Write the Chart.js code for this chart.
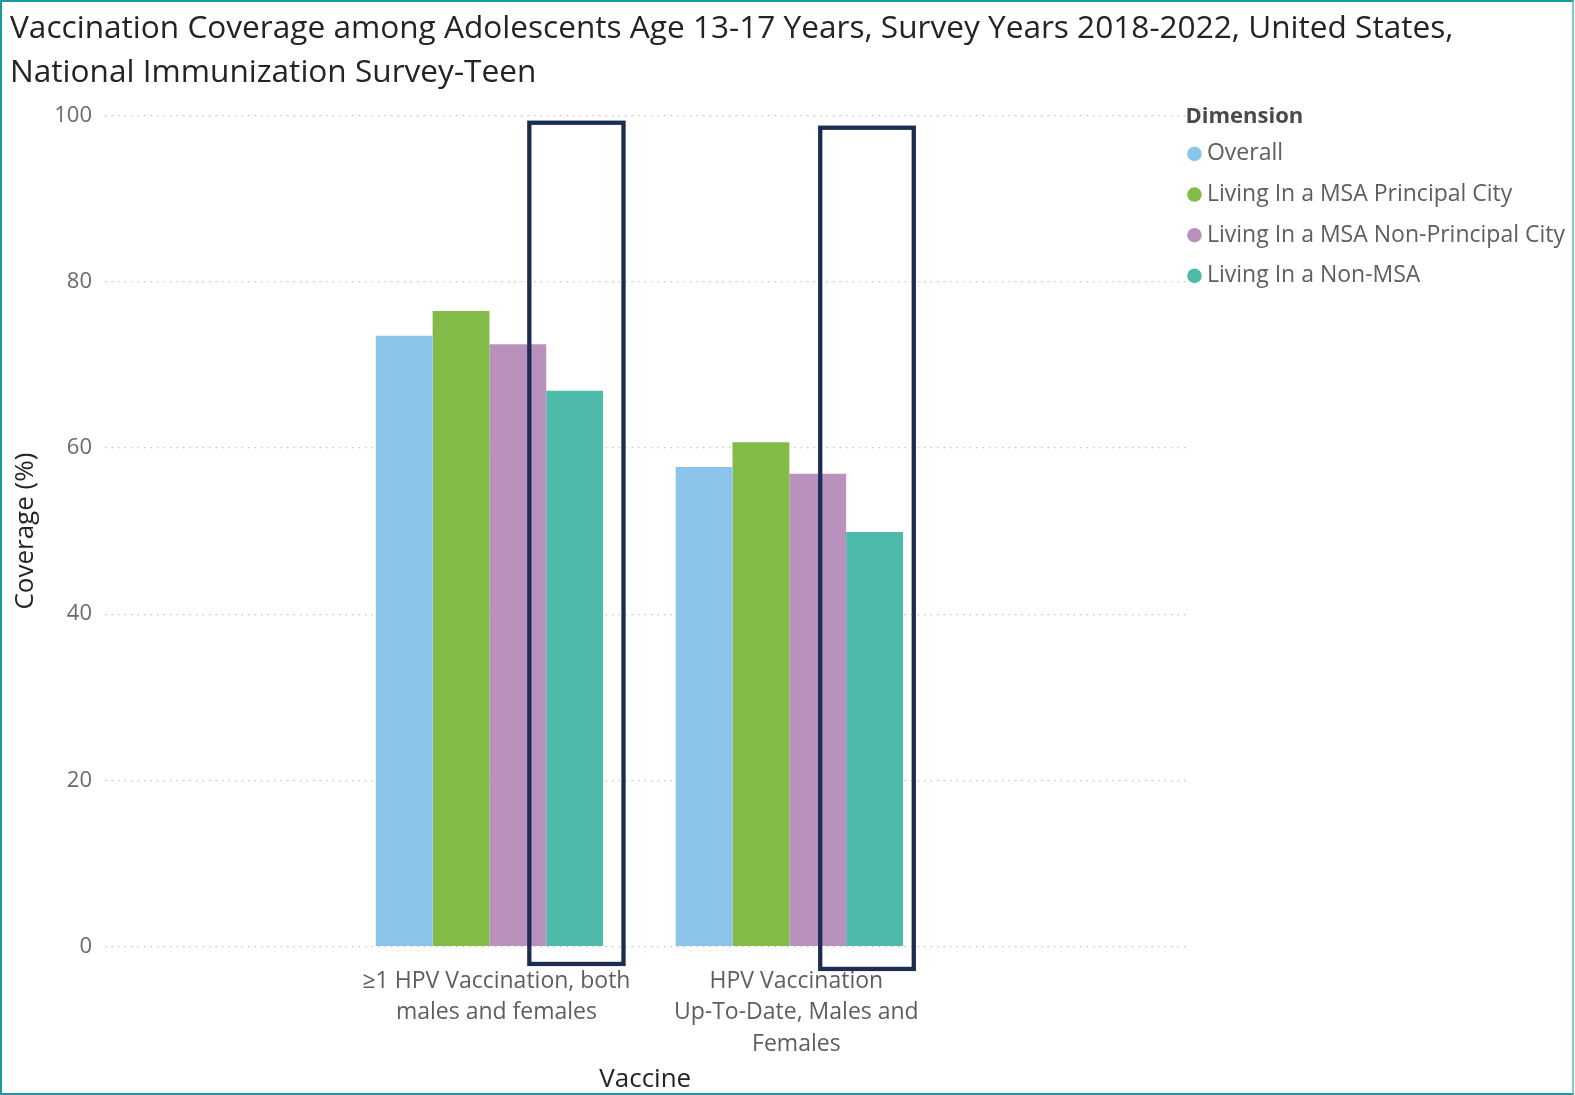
<!DOCTYPE html>
<html>
<head>
<meta charset="utf-8">
<title>HPV Vaccination Coverage by MSA</title>
<script src="https://cdn.jsdelivr.net/npm/chart.js@4.4.1/dist/chart.umd.min.js"></script>
<style>
  html, body { margin: 0; padding: 0; background: #fff; }
  #wrap { position: relative; width: 1575px; height: 1095px; }
  #wrap canvas { display: block; }
  #frame {
    position: absolute; left: 0; top: 0; width: 1574px; height: 1095px;
    box-sizing: border-box; pointer-events: none;
    border: 2px solid #1c9aa1; border-right: 2px solid #7ccacc;
  }
</style>
</head>
<body>
<div id="wrap">
  <canvas id="coverageChart" width="1575" height="1095"></canvas>
  <div id="frame"></div>
</div>
<script>
const vaccines = [
    ['≥1 HPV Vaccination, both', 'males and females'],
    ['HPV Vaccination', 'Up-To-Date, Males and', 'Females']
];
const dimensions = [
    'Overall',
    'Living In a MSA Principal City',
    'Living In a MSA Non-Principal City',
    'Living In a Non-MSA'
];
const overall         = [73.5, 57.7];
const msaPrincipal    = [76.5, 60.7];
const msaNonPrincipal = [72.5, 56.9];
const nonMsa          = [66.9, 49.9];

// outlined callouts around the Non-MSA bars, in axis units
const callouts = [
    { x0: 1.133, x1: 1.447, y0: -2.1, y1: 99.15 },
    { x0: 2.103, x1: 2.415, y0: -2.7, y1: 98.55 }
];

const FONT = '"Open Sans", "Noto Sans", sans-serif';
const seriesValues = [overall, msaPrincipal, msaNonPrincipal, nonMsa];
const seriesColors = ['#8ac4e8', '#83bb48', '#b991bd', '#4dbaaa'];

// keep the plot's right edge fixed no matter how wide the legend text renders
const PLOT_RIGHT = 1186;
const measureCtx = document.createElement('canvas').getContext('2d');
measureCtx.font = `23px ${FONT}`;
const legendTextWidth = Math.max(...dimensions.map(d => measureCtx.measureText(d).width));
const legendWidth = 8 + 2 + 11.5 + legendTextWidth + 10;
const padRight = Math.max(0, 1575 - PLOT_RIGHT - legendWidth);

const calloutPlugin = {
    id: 'callouts',
    afterDraw(chart) {
        const { ctx, scales: { x, y } } = chart;
        ctx.save();
        ctx.strokeStyle = '#1b2d52';
        ctx.lineWidth = 4.3;
        callouts.forEach(c => {
            const left   = x.getPixelForValue(c.x0);
            const right  = x.getPixelForValue(c.x1);
            const top    = y.getPixelForValue(c.y1);
            const bottom = y.getPixelForValue(c.y0);
            ctx.strokeRect(left, top, right - left, bottom - top);
        });
        ctx.restore();
    }
};

new Chart(document.getElementById('coverageChart'), {
    type: 'bar',
    data: {
        datasets: dimensions.map((name, s) => ({
            label: name,
            data: seriesValues[s].map((v, i) => ({ x: i + 1, y: v })),
            backgroundColor: seriesColors[s],
            borderWidth: 0,
            categoryPercentage: 0.758,
            barPercentage: 1
        }))
    },
    plugins: [calloutPlugin],
    options: {
        responsive: false,
        animation: false,
        layout: { padding: { left: 10, right: padRight, top: 0, bottom: 0 } },
        plugins: {
            title: {
                display: true,
                align: 'start',
                text: [
                    'Vaccination Coverage among Adolescents Age 13-17 Years, Survey Years 2018-2022, United States,',
                    'National Immunization Survey-Teen'
                ],
                color: '#252423',
                font: { family: FONT, size: 31.6, weight: 'normal', lineHeight: 1.392 },
                padding: { top: 7, bottom: 20.7 }
            },
            legend: {
                position: 'right',
                align: 'start',
                title: {
                    display: true,
                    text: 'Dimension',
                    position: 'start',
                    color: '#4a4a4a',
                    font: { family: FONT, size: 22, weight: 'bold', lineHeight: 1.2 },
                    padding: { top: 106, bottom: 2 }
                },
                labels: {
                    usePointStyle: true,
                    pointStyle: 'circle',
                    boxWidth: 2,
                    boxHeight: 10.3,
                    padding: 8,
                    color: '#605e5c',
                    font: { family: FONT, size: 23, lineHeight: 1.42 },
                    // single-line arrays so the row height follows the font lineHeight
                    generateLabels: chart => Chart.defaults.plugins.legend.labels.generateLabels(chart)
                        .map(item => ({ ...item, text: [item.text] }))
                }
            },
            tooltip: { enabled: false }
        },
        scales: {
            x: {
                type: 'linear',
                min: -0.282,
                max: 3.321,
                offset: false,
                grid: { display: false },
                border: { display: false },
                afterBuildTicks: axis => {
                    axis.ticks = vaccines.map((v, i) => ({ value: i + 1 }));
                },
                afterFit: axis => { axis.height = 148.5; },
                ticks: {
                    autoSkip: false,
                    maxRotation: 0,
                    padding: 11,
                    labelOffset: 7,
                    color: '#605e5c',
                    font: { family: FONT, size: 23, lineHeight: 1.37 },
                    callback: value => vaccines[value - 1]
                },
                title: {
                    display: true,
                    text: 'Vaccine',
                    color: '#252423',
                    font: { family: FONT, size: 26, lineHeight: 1.2 },
                    padding: { top: 0, bottom: 0 }
                }
            },
            y: {
                min: 0,
                max: 100,
                ticks: {
                    stepSize: 20,
                    padding: 13,
                    color: '#6a6a6a',
                    font: { family: FONT, size: 22 }
                },
                grid: { color: '#c4c4c4', lineWidth: 1.2, drawTicks: false },
                border: { display: false, dash: [1.5, 5] },
                afterFit: axis => { axis.width = 95; },
                title: {
                    display: true,
                    text: 'Coverage (%)',
                    color: '#252423',
                    font: { family: FONT, size: 26, lineHeight: 1 },
                    padding: { top: 3, bottom: 0 }
                }
            }
        }
    }
});
</script>
</body>
</html>
